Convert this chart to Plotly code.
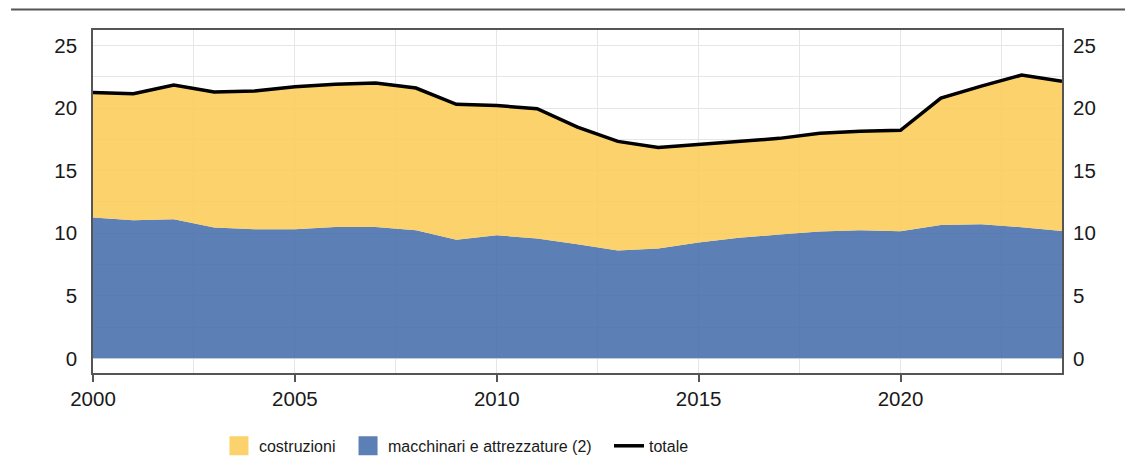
import plotly.graph_objects as go

years = list(range(2000, 2025))
macchinari = [11.25, 11.04, 11.12, 10.45, 10.32, 10.32, 10.50, 10.50, 10.24, 9.47,
              9.84, 9.58, 9.12, 8.62, 8.78, 9.26, 9.63, 9.90, 10.14, 10.24,
              10.16, 10.66, 10.72, 10.48, 10.18]
costruzioni = [10.00, 10.11, 10.72, 10.83, 11.04, 11.38, 11.40, 11.50, 11.36, 10.83,
               10.36, 10.37, 9.36, 8.72, 8.08, 7.84, 7.67, 7.68, 7.84, 7.90,
               8.06, 10.14, 11.04, 12.16, 11.97]
totale = [21.25, 21.15, 21.84, 21.28, 21.36, 21.70, 21.90, 22.00, 21.60, 20.30,
          20.20, 19.95, 18.48, 17.34, 16.86, 17.10, 17.30, 17.58, 17.98, 18.14,
          18.22, 20.80, 21.76, 22.64, 22.15]
names = ["costruzioni", "macchinari e attrezzature (2)", "totale"]

YELLOW = "rgba(251,204,88,0.88)"
BLUE = "rgba(70,110,172,0.88)"
YELLOW_LEG = "rgb(251,210,108)"
BLUE_LEG = "rgb(92,127,182)"

fig = go.Figure()
fig.add_trace(go.Scatter(x=years, y=macchinari, stackgroup="one", mode="none",
                         fillcolor=BLUE, showlegend=False, hoverinfo="skip"))
fig.add_trace(go.Scatter(x=years, y=costruzioni, stackgroup="one", mode="none",
                         fillcolor=YELLOW, showlegend=False, hoverinfo="skip"))
fig.add_trace(go.Scatter(x=years, y=totale, mode="lines",
                         line=dict(color="black", width=3.5), showlegend=False))
# right axis companion
fig.add_trace(go.Scatter(x=years, y=totale, yaxis="y2", mode="lines", opacity=0,
                         showlegend=False, hoverinfo="skip"))

# legend entries
fig.add_trace(go.Scatter(x=[None], y=[None], mode="markers", name=names[0],
                         marker=dict(symbol="square", size=16, color=YELLOW_LEG,
                                     line=dict(color=YELLOW_LEG, width=3)),
                         legend="legend"))
fig.add_trace(go.Scatter(x=[None], y=[None], mode="markers", name=names[1],
                         marker=dict(symbol="square", size=16, color=BLUE_LEG,
                                     line=dict(color=BLUE_LEG, width=3)),
                         legend="legend2"))
fig.add_trace(go.Scatter(x=[None], y=[None], mode="lines", name=names[2],
                         line=dict(color="black", width=3.5),
                         legend="legend3"))

tickfont = dict(family="Liberation Sans, Arial, sans-serif", size=20.5, color="#1a1a1a")
legfont = dict(family="Liberation Sans, Arial, sans-serif", size=16, color="#1a1a1a")
yr = [-1.17, 26.24]
grid = "#e6e6e6"

fig.update_layout(
    width=1125, height=450,
    margin=dict(l=85, r=71, t=21.5, b=85, autoexpand=False),
    plot_bgcolor="white", paper_bgcolor="white",
    xaxis=dict(range=[2000, 2024], dtick=5, tick0=2000, showgrid=True, gridcolor=grid,
               minor=dict(dtick=2.5, showgrid=True, gridcolor=grid),
               ticks="outside", ticklen=7, tickcolor="#555", tickwidth=1.5,
               showline=True, linecolor="#555", linewidth=1.5, mirror=True,
               tickfont=tickfont, zeroline=False),
    yaxis=dict(range=yr, dtick=5, tick0=0, showgrid=True, gridcolor=grid,
               minor=dict(dtick=2.5, showgrid=True, gridcolor=grid),
               showline=True, linecolor="#555", linewidth=1.5, mirror=True,
               tickfont=tickfont, zeroline=True, zerolinecolor=grid, zerolinewidth=1,
               ticklabelstandoff=10),
    yaxis2=dict(range=yr, dtick=5, tick0=0, overlaying="y", side="right",
                showgrid=False, zeroline=False, tickfont=tickfont, ticklabelstandoff=10,
                showline=False),
    legend=dict(orientation="h", x=0.130, y=-0.2125, xanchor="left", yanchor="middle",
                font=legfont, bgcolor="rgba(0,0,0,0)", itemsizing="trace"),
    legend2=dict(orientation="h", x=0.2632, y=-0.2125, xanchor="left", yanchor="middle",
                 font=legfont, bgcolor="rgba(0,0,0,0)", itemsizing="trace"),
    legend3=dict(orientation="h", x=0.5325, y=-0.2125, xanchor="left", yanchor="middle",
                 font=legfont, bgcolor="rgba(0,0,0,0)", itemsizing="trace"),
    shapes=[dict(type="line", xref="paper", yref="paper", x0=-0.0846, x1=1.0733,
                 y0=1.0597, y1=1.0597, line=dict(color="#555", width=2))],
)

fig.write_html("out.html")
